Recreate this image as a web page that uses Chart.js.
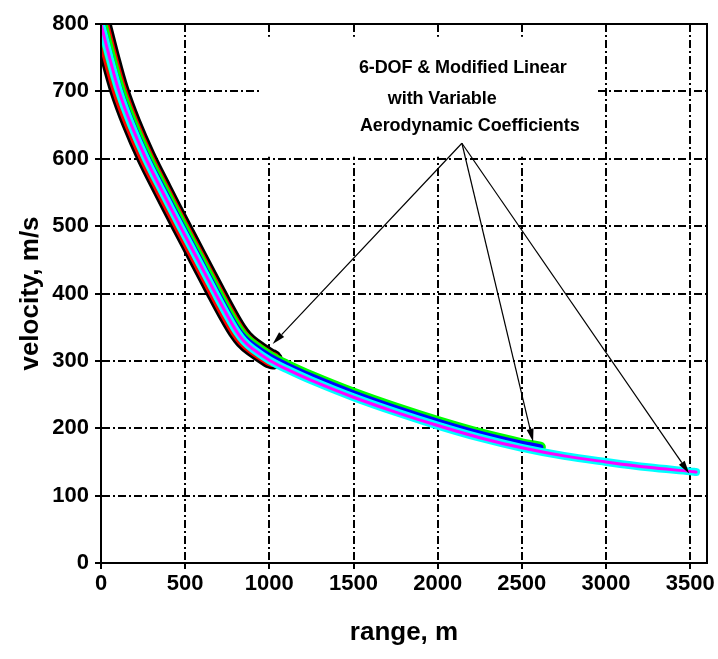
<!DOCTYPE html>
<html><head><meta charset="utf-8">
<script src="https://cdn.jsdelivr.net/npm/chart.js@4.4.1/dist/chart.umd.min.js"></script>
<style>html,body{margin:0;padding:0;background:#fff}</style>
</head><body>
<canvas id="c" width="718" height="659"></canvas>
<script>
// ---- data ----
const xTicks = [0, 500, 1000, 1500, 2000, 2500, 3000, 3500];
const yTicks = [0, 100, 200, 300, 400, 500, 600, 700, 800];

// long-range trajectory (cyan / magenta), m and m/s
const rangeLong = [0, 50, 107, 180, 267, 365, 470, 575, 680, 760, 810, 850, 900, 1000, 1100, 1250, 1500, 1750, 2000, 2250, 2500, 2750, 3000, 3250, 3500, 3535];
const velLong   = [800, 751, 700, 650, 600, 551, 500, 450, 400, 363, 342, 329, 318, 301, 288, 271, 246, 224, 204, 186, 171, 159, 150, 142, 136, 135];

// medium-range trajectory (green / blue)
const rangeMed = [0, 50, 107, 180, 267, 365, 470, 575, 680, 760, 810, 850, 900, 1000, 1100, 1250, 1500, 1750, 2000, 2250, 2500, 2610];
const velMed   = [806, 757, 706, 656, 606, 557, 506, 456, 406, 369, 348, 335, 324, 307, 294, 277, 252, 230, 210, 192, 177, 172];

// short-range trajectory (black / red)
const rangeShort = [0, 50, 107, 180, 267, 365, 470, 575, 680, 760, 810, 850, 900, 1000, 1020];
const velShort   = [803, 754, 703, 653, 603, 554, 503, 453, 403, 366, 345, 332, 321, 304, 302];

const noteLines = ['6-DOF & Modified Linear', 'with Variable', 'Aerodynamic Coefficients'];
const xTitle = 'range, m';
const yTitle = 'velocity, m/s';

// annotation geometry in data units
const noteAnchors = [[1532, 728], [1704, 681], [1538, 641]];
const noteBox = {x0: 955, x1: 2950, y0: 603, y1: 781};
const arrowFrom = [2144, 623];
const arrowTips = [[1020, 325], [2567, 180], [3494, 133]];

const pts = (xs, ys) => xs.map((x, i) => ({x: x, y: ys[i]}));
const FAM = '"Liberation Sans", Arial, Helvetica, sans-serif';
const tickFont = {family: FAM, size: 22, weight: 'bold'};
const titleFont = {family: FAM, size: 26, weight: 'bold'};

function ds(xs, ys, color, w) {
  return {data: pts(xs, ys), borderColor: color, borderWidth: w, clip: 0,
          pointRadius: 0, fill: false, tension: 0.35,
          borderCapStyle: 'round', borderJoinStyle: 'round'};
}

const boxPlugin = {
  id: 'box',
  beforeDatasetsDraw(chart) {
    const {ctx, scales: {x, y}} = chart;
    ctx.save();
    ctx.fillStyle = '#fff';
    const px0 = x.getPixelForValue(noteBox.x0), px1 = x.getPixelForValue(noteBox.x1);
    const py0 = y.getPixelForValue(noteBox.y1), py1 = y.getPixelForValue(noteBox.y0);
    ctx.fillRect(px0, py0, px1 - px0, py1 - py0);
    ctx.restore();
  },
  afterDatasetsDraw(chart) {
    const {ctx, chartArea: a, scales: {x, y}} = chart;
    ctx.save();
    ctx.strokeStyle = '#000';
    ctx.lineWidth = 2;
    ctx.strokeRect(a.left, a.top, a.right - a.left, a.bottom - a.top);
    ctx.fillStyle = '#000';
    ctx.font = 'bold 18px ' + FAM;
    ctx.textBaseline = 'alphabetic';
    ctx.textAlign = 'left';
    try { ctx.letterSpacing = '-0.1px'; } catch (e) {}
    noteLines.forEach((t, i) => {
      ctx.fillText(t, x.getPixelForValue(noteAnchors[i][0]), y.getPixelForValue(noteAnchors[i][1]));
    });
    const fx = x.getPixelForValue(arrowFrom[0]), fy = y.getPixelForValue(arrowFrom[1]);
    ctx.lineWidth = 1.2;
    arrowTips.forEach(([tx0, ty0]) => {
      const tx = x.getPixelForValue(tx0), ty = y.getPixelForValue(ty0);
      const ang = Math.atan2(ty - fy, tx - fx);
      const L = 13, H = 3.5;
      const bx = tx - L * Math.cos(ang), by = ty - L * Math.sin(ang);
      ctx.beginPath();
      ctx.moveTo(fx, fy);
      ctx.lineTo(bx, by);
      ctx.stroke();
      ctx.beginPath();
      ctx.moveTo(tx, ty);
      ctx.lineTo(bx + H * Math.sin(ang), by - H * Math.cos(ang));
      ctx.lineTo(bx - H * Math.sin(ang), by + H * Math.cos(ang));
      ctx.closePath();
      ctx.fill();
    });
    ctx.restore();
  }
};

const gridCommon = {color: '#000', lineWidth: 2, tickLength: 6, tickColor: '#000', tickWidth: 2};
const borderCommon = {display: true, color: '#000', width: 2, dash: [8, 3, 2, 3]};

new Chart(document.getElementById('c'), {
  type: 'line',
  data: {datasets: [
    ds(rangeLong, velLong, '#ff00ff', 3),
    ds(rangeLong, velLong, '#00ffff', 8),
    ds(rangeMed, velMed, '#0000ff', 6),
    ds(rangeMed, velMed, '#00ff00', 11),
    ds(rangeShort, velShort, '#ff0000', 15),
    ds(rangeShort, velShort, '#000000', 20)
  ]},
  options: {
    responsive: false, animation: false, devicePixelRatio: 1,
    layout: {padding: {left: 0, right: 11, top: 24, bottom: 0}},
    plugins: {legend: {display: false}, tooltip: {enabled: false}},
    scales: {
      x: {
        type: 'linear', min: 0, max: 3600,
        afterBuildTicks(s) { s.ticks = xTicks.map(v => ({value: v})); },
        afterFit(s) { s.height = 96; },
        ticks: {font: tickFont, color: '#000', padding: 2, maxRotation: 0, autoSkip: false, callback: v => String(v)},
        grid: gridCommon, border: borderCommon,
        title: {display: true, text: xTitle, font: titleFont, color: '#000', padding: {top: 0, bottom: 11}}
      },
      y: {
        type: 'linear', min: 0, max: 800,
        afterBuildTicks(s) { s.ticks = yTicks.map(v => ({value: v})); },
        afterFit(s) { s.width = 101; },
        ticks: {font: tickFont, color: '#000', padding: 6, autoSkip: false, callback: v => String(v)},
        grid: gridCommon, border: borderCommon,
        title: {display: true, text: yTitle, font: titleFont, color: '#000', padding: {top: 15, bottom: 0}}
      }
    }
  },
  plugins: [boxPlugin]
});
</script>
</body></html>
